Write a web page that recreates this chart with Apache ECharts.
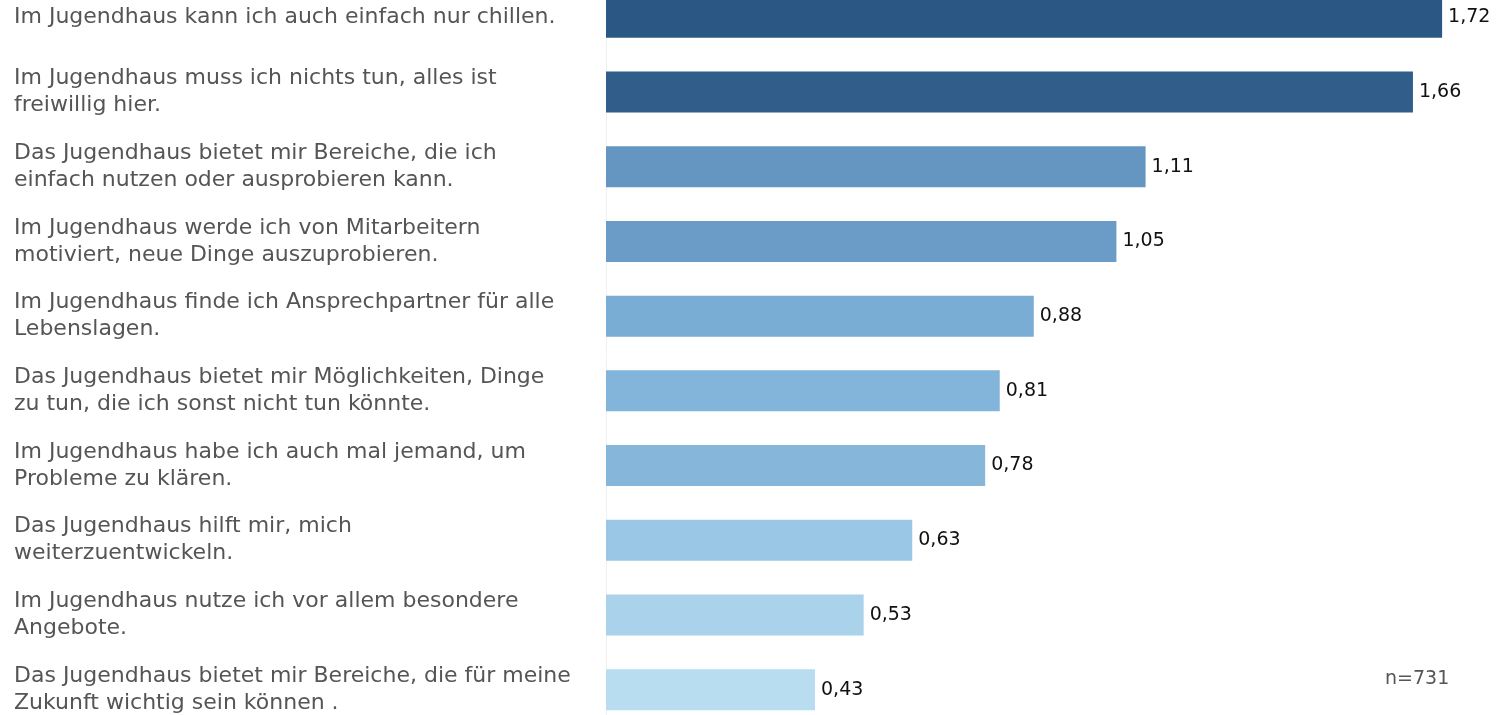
<!DOCTYPE html>
<html>
<head>
<meta charset="utf-8">
<script src="https://cdn.jsdelivr.net/npm/echarts@6/dist/echarts.min.js"></script>
<style>
  html, body { margin: 0; padding: 0; background: #fff; }
  #chart { width: 1499px; height: 715px; }
</style>
</head>
<body>
<div id="chart"></div>
<script>
// Aussagen (Kategorien), von oben nach unten
var aussagen = [
    'Im Jugendhaus kann ich auch einfach nur chillen.',
    'Im Jugendhaus muss ich nichts tun, alles ist\nfreiwillig hier.',
    'Das Jugendhaus bietet mir Bereiche, die ich\neinfach nutzen oder ausprobieren kann.',
    'Im Jugendhaus werde ich von Mitarbeitern\nmotiviert, neue Dinge auszuprobieren.',
    'Im Jugendhaus finde ich Ansprechpartner für alle\nLebenslagen.',
    'Das Jugendhaus bietet mir Möglichkeiten, Dinge\nzu tun, die ich sonst nicht tun könnte.',
    'Im Jugendhaus habe ich auch mal jemand, um\nProbleme zu klären.',
    'Das Jugendhaus hilft mir, mich\nweiterzuentwickeln.',
    'Im Jugendhaus nutze ich vor allem besondere\nAngebote.',
    'Das Jugendhaus bietet mir Bereiche, die für meine\nZukunft wichtig sein können .'
];
// Mittelwerte
var werte = [1.72, 1.66, 1.11, 1.05, 0.88, 0.81, 0.78, 0.63, 0.53, 0.43];
// Stichprobe
var anzahl = 731;

var fmt = function (v) {
    return v.toFixed(2).replace('.', ',');
};

var option = {
    animation: false,
    grid: {
        left: 606,
        right: 18,
        top: -20,
        height: 747,
        outerBoundsMode: 'none'
    },
    visualMap: {
        show: false,
        type: 'continuous',
        dimension: 0,
        min: 0.43,
        max: 1.72,
        inRange: {
            // blaue Skala (hell -> dunkel)
            color: ['#b9ddf0', '#98c5e4', '#7cafd6', '#689ac5', '#5484b0', '#3f6d9a', '#2a5783']
        }
    },
    xAxis: {
        type: 'value',
        min: 0,
        max: 1.8,
        show: false
    },
    yAxis: {
        type: 'category',
        inverse: true,
        data: aussagen,
        axisTick: { show: false },
        axisLine: {
            show: true,
            lineStyle: { color: '#f0f0f0', width: 1 }
        },
        axisLabel: {
            align: 'left',
            margin: 592,
            color: '#555555',
            fontFamily: 'DejaVu Sans',
            fontSize: 22,
            lineHeight: 27
        }
    },
    series: [{
        type: 'bar',
        data: werte,
        barWidth: 41,
        label: {
            show: true,
            position: 'right',
            distance: 6,
            color: '#111111',
            fontFamily: 'DejaVu Sans',
            fontSize: 19,
            formatter: function (p) { return fmt(p.value); }
        }
    }],
    graphic: [{
        type: 'text',
        left: 1385,
        top: 670,
        style: {
            text: 'n=' + anzahl,
            fill: '#555555',
            font: '19px "DejaVu Sans"'
        }
    }]
};

var myChart = echarts.init(document.getElementById('chart'));
myChart.setOption(option);
</script>
</body>
</html>
